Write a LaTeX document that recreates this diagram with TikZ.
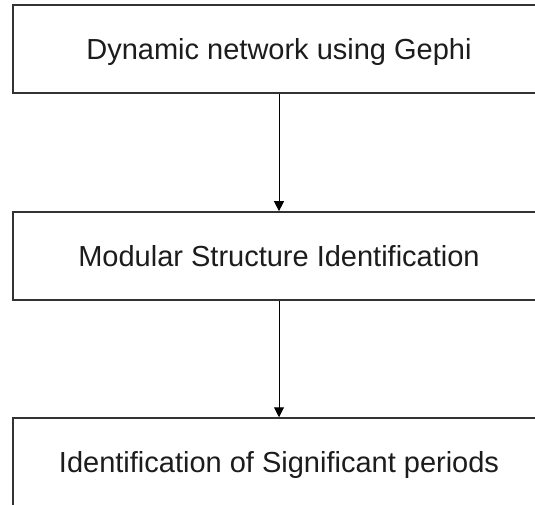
\documentclass[tikz,border=0pt]{standalone}
\usepackage{fontspec}
\setmainfont{Liberation Sans}
\usetikzlibrary{arrows.meta}
\definecolor{edge}{HTML}{333333}
\definecolor{ink}{HTML}{1C1C1C}
\tikzset{
  stepbox/.style={draw=edge, line width=1.6pt, fill=white, inner sep=0pt,
    minimum width=532pt, minimum height=88.3pt,
    text height=20.8pt, text depth=0pt, text=ink,
    font=\fontsize{29}{34}\selectfont},
  flow/.style={draw=black, line width=1pt,
    -{Triangle[width=10pt,length=10pt]}}
}
\begin{document}
\begin{tikzpicture}[x=1pt,y=-1pt]
  \useasboundingbox (0,0) rectangle (535,505);
  \clip (0,0) rectangle (535,505);
  \node[stepbox] (gephi)   at (279,48.9)  {Dynamic network using Gephi};
  \node[stepbox] (modular) at (279,256.1) {Modular Structure Identification};
  \node[stepbox] (periods) at (279,462.2) {Identification of Significant periods};
  \draw[flow] (gephi.south) -- (modular.north);
  \draw[flow] (modular.south) -- (periods.north);
\end{tikzpicture}
\end{document}
